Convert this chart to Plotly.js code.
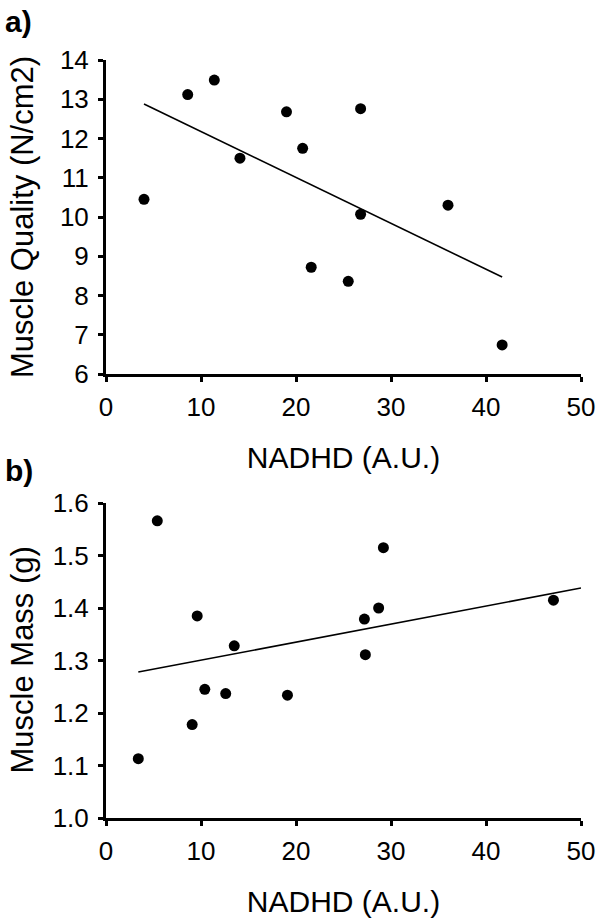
<!DOCTYPE html>
<html><head><meta charset="utf-8">
<script src="https://cdn.plot.ly/plotly-3.0.1.min.js"></script>
<style>html,body{margin:0;padding:0;background:#fff;}#chart{width:596px;height:920px;}</style>
</head><body><div id="chart"></div>
<script>
// Panel a: Muscle Quality vs NADHD
const nadhdA = [4.0, 8.6, 11.4, 14.1, 19.0, 20.7, 21.6, 25.5, 26.8, 26.8, 36.0, 41.7];
const qualityA = [10.45, 13.12, 13.49, 11.50, 12.68, 11.75, 8.72, 8.36, 12.76, 10.07, 10.30, 6.74];
const trendXA = [4.0, 41.7];
const trendYA = [12.88, 8.47];
// Panel b: Muscle Mass vs NADHD
const nadhdB = [3.4, 5.4, 9.07, 9.6, 10.4, 12.6, 13.5, 19.1, 27.2, 27.3, 28.7, 29.2, 47.1];
const massB = [1.113, 1.566, 1.178, 1.385, 1.245, 1.237, 1.328, 1.234, 1.379, 1.311, 1.40, 1.515, 1.415];
const trendXB = [3.4, 50];
const trendYB = [1.278, 1.438];
// Tick labels
const xTicks = [0, 10, 20, 30, 40, 50];
const yTicksA = [6, 7, 8, 9, 10, 11, 12, 13, 14];
const yTicksB = [1.0, 1.1, 1.2, 1.3, 1.4, 1.5, 1.6];
const xTitle = 'NADHD (A.U.)';
const yTitleA = 'Muscle Quality (N/cm2)';
const yTitleB = 'Muscle Mass (g)';

const FONT = 'Liberation Sans, Arial, sans-serif';
const W = 596, H = 920;
const domX = [106 / W, 581 / W];
const domYA = [1 - 374 / H, 1 - 60 / H];
const domYB = [1 - 818 / H, 1 - 503 / H];

const traces = [
  {x: trendXA, y: trendYA, xaxis: 'x', yaxis: 'y', mode: 'lines', line: {color: '#000', width: 1.6}, hoverinfo: 'skip'},
  {x: nadhdA, y: qualityA, xaxis: 'x', yaxis: 'y', mode: 'markers', marker: {color: '#000', size: 11}, cliponaxis: false},
  {x: trendXB, y: trendYB, xaxis: 'x2', yaxis: 'y2', mode: 'lines', line: {color: '#000', width: 1.6}, hoverinfo: 'skip'},
  {x: nadhdB, y: massB, xaxis: 'x2', yaxis: 'y2', mode: 'markers', marker: {color: '#000', size: 11}, cliponaxis: false}
];

function xAxis(anchor) {
  return {
    domain: domX, range: [0, 50], anchor: anchor,
    showline: true, linecolor: '#000', linewidth: 3,
    ticks: 'outside', ticklen: 5, tickwidth: 3, tickcolor: '#000',
    tickvals: xTicks, ticktext: xTicks.map(String),
    ticklabelstandoff: 3,
    tickfont: {size: 26, color: '#000', family: FONT},
    showgrid: false, zeroline: false,
    title: {text: xTitle, font: {size: 30, color: '#000', family: FONT}, standoff: 26}
  };
}
function yAxis(anchor, dom, range, vals, fmt) {
  return {
    domain: dom, range: range, anchor: anchor,
    showline: true, linecolor: '#000', linewidth: 3,
    ticks: 'outside', ticklen: 5, tickwidth: 3, tickcolor: '#000',
    tickvals: vals, ticktext: vals.map(v => fmt(v)),
    ticklabelstandoff: 4,
    tickfont: {size: 26, color: '#000', family: FONT},
    showgrid: false, zeroline: false
  };
}

const layout = {
  width: W, height: H,
  margin: {l: 0, r: 0, t: 0, b: 0},
  paper_bgcolor: '#fff', plot_bgcolor: '#fff',
  showlegend: false,
  font: {family: FONT, color: '#000'},
  xaxis: xAxis('y'),
  yaxis: yAxis('x', domYA, [6, 14], yTicksA, v => String(v)),
  xaxis2: xAxis('y2'),
  yaxis2: yAxis('x2', domYB, [1.0, 1.6], yTicksB, v => v.toFixed(1)),
  annotations: [
    {text: yTitleA, textangle: -90, xref: 'paper', yref: 'paper', x: 23 / W, y: (domYA[0] + domYA[1]) / 2, xanchor: 'center', yanchor: 'middle', showarrow: false, font: {size: 31, color: '#000', family: FONT}},
    {text: yTitleB, textangle: -90, xref: 'paper', yref: 'paper', x: 22 / W, y: (domYB[0] + domYB[1]) / 2, xanchor: 'center', yanchor: 'middle', showarrow: false, font: {size: 31, color: '#000', family: FONT}},
    {text: '<b>a)</b>', xref: 'paper', yref: 'paper', x: 3 / W, y: 1 - 21 / H, xanchor: 'left', yanchor: 'middle', showarrow: false, font: {size: 30, color: '#000', family: FONT}},
    {text: '<b>b)</b>', xref: 'paper', yref: 'paper', x: 3 / W, y: 1 - 470 / H, xanchor: 'left', yanchor: 'middle', showarrow: false, font: {size: 30, color: '#000', family: FONT}}
  ]
};

Plotly.newPlot('chart', traces, layout, {staticPlot: true, displayModeBar: false});
</script>
</body></html>
